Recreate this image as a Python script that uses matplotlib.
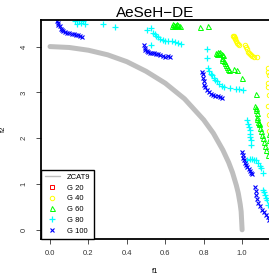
import numpy as np
import matplotlib
matplotlib.use("Agg")
import matplotlib.pyplot as plt

plt.rcParams['font.family'] = ['Liberation Sans', 'DejaVu Sans']

# ZCAT9 reference front
front_f1 = [0.0, 0.1, 0.2, 0.3, 0.4, 0.5, 0.6, 0.7, 0.8, 0.85, 0.9, 0.93, 0.95, 0.97, 0.98, 0.99, 0.995, 1.0]
front_f2 = [4.0, 3.98, 3.92, 3.82, 3.67, 3.46, 3.2, 2.86, 2.4, 2.11, 1.74, 1.47, 1.25, 0.97, 0.80, 0.56, 0.40, 0.0]

# generation 20: nothing inside the plotted window
g20_f1 = []
g20_f2 = []

g40_f1 = [0.953, 0.956, 0.958, 0.961, 0.964, 0.969, 0.974, 0.979, 0.984, 1.016, 1.021, 1.026, 1.031, 1.036, 1.042,
          1.047, 1.052, 1.0625, 1.075,
          1.135, 1.135, 1.14, 1.135, 1.135, 1.14, 1.135, 1.14, 1.14, 1.14]
g40_f2 = [4.24, 4.22, 4.20, 4.18, 4.17, 4.12, 4.08, 4.06, 4.04, 4.04, 3.99, 3.95, 3.89, 3.86, 3.84,
          3.82, 3.80, 3.78, 3.77,
          3.54, 3.45, 3.38, 3.21, 3.12, 2.95, 2.70, 2.50, 2.30, 2.15]

g60_f1 = [0.635, 0.640, 0.645, 0.650, 0.655, 0.660, 0.665, 0.677, 0.781, 0.823,
          0.865, 0.870, 0.875, 0.880, 0.885, 0.893, 0.901, 0.896, 0.896, 0.905, 0.911, 0.917, 0.922, 0.927, 0.932,
          0.960, 0.974, 1.000,
          1.073, 1.068, 1.070, 1.073, 1.076, 1.078, 1.080, 1.083, 1.086, 1.090, 1.094, 1.100, 1.104, 1.110, 1.115,
          1.120, 1.125, 1.135, 1.14, 1.14]
g60_f2 = [4.45, 4.50, 4.48, 4.45, 4.46, 4.49, 4.47, 4.45, 4.43, 4.45,
          3.86, 3.84, 3.88, 3.85, 3.89, 3.84, 3.82, 3.76, 3.71, 3.68, 3.65, 3.60, 3.56, 3.52, 3.49,
          3.50, 3.49, 3.32,
          2.97, 2.71, 2.66, 2.62, 2.55, 2.47, 2.41, 2.36, 2.33, 2.30, 2.23, 2.15, 2.07, 2.00, 1.92,
          1.83, 1.75, 1.64, 2.10, 1.95]

g80_f1 = [0.13, 0.14, 0.15, 0.16, 0.17, 0.18, 0.276, 0.339,
          0.505, 0.526, 0.536, 0.545, 0.552, 0.563, 0.573, 0.586, 0.599, 0.615, 0.635, 0.650, 0.667, 0.682, 0.526,
          0.818, 0.818, 0.823, 0.830, 0.838, 0.844, 0.852, 0.859, 0.870, 0.880, 0.893, 0.906, 0.9375, 0.969, 0.985, 1.005,
          1.026, 1.031, 1.036, 1.042, 1.042, 1.042, 1.047, 1.047,
          1.026, 1.040, 1.052, 1.063, 1.073, 1.083, 1.092, 1.099, 1.109,
          1.109, 1.115, 1.12, 1.125, 1.13, 1.135]
g80_f2 = [4.56, 4.50, 4.58, 4.52, 4.55, 4.50, 4.50, 4.43,
          4.37, 4.41, 4.30, 4.27, 4.24, 4.20, 4.17, 4.15, 4.13, 4.12, 4.13, 4.10, 4.08, 4.06, 4.04,
          3.95, 3.76, 3.54, 3.46, 3.40, 3.38, 3.32, 3.28, 3.24, 3.19, 3.15, 3.12, 3.10, 3.08, 3.07, 3.06,
          2.40, 2.32, 2.25, 2.18, 2.10, 2.03, 1.95, 1.86,
          1.53, 1.55, 1.55, 1.52, 1.53, 1.46, 1.40, 1.35, 1.24,
          0.87, 0.82, 0.76, 0.70, 0.66, 0.55]

g100_f1 = [0.036, 0.040, 0.042, 0.050, 0.057, 0.062, 0.068, 0.078, 0.089, 0.100, 0.115, 0.125, 0.135, 0.146, 0.156, 0.167,
           0.490, 0.492, 0.495, 0.503, 0.510, 0.520, 0.531, 0.542, 0.552, 0.563, 0.573, 0.586, 0.599, 0.612, 0.625,
           0.792, 0.794, 0.797, 0.799, 0.802, 0.808, 0.818, 0.828, 0.839, 0.849, 0.859, 0.872, 0.885, 0.896,
           1.000, 1.003, 1.005, 1.010, 1.016, 1.021, 1.026, 1.034, 1.042, 1.047, 1.052,
           1.068, 1.070, 1.073, 1.078, 1.083, 1.094, 1.104, 1.115, 1.125, 1.135, 1.14]
g100_f2 = [4.56, 4.52, 4.48, 4.44, 4.39, 4.36, 4.34, 4.32, 4.30, 4.29, 4.28, 4.27, 4.26, 4.25, 4.24, 4.21,
           4.04, 3.97, 3.93, 3.90, 3.89, 3.87, 3.86, 3.85, 3.84, 3.83, 3.82, 3.80, 3.78, 3.79, 3.78,
           3.45, 3.40, 3.32, 3.25, 3.17, 3.11, 3.06, 3.01, 2.97, 2.95, 2.93, 2.91, 2.90, 2.88,
           1.70, 1.64, 1.57, 1.52, 1.46, 1.42, 1.38, 1.33, 1.29, 1.25, 1.22,
           0.94, 0.85, 0.76, 0.67, 0.59, 0.51, 0.44, 0.38, 0.33, 0.27, 0.22]

xticks = [0.0, 0.2, 0.4, 0.6, 0.8, 1.0]
yticks = [0, 1, 2, 3, 4]

W, H = 269, 274
fig = plt.figure(figsize=(W / 100, H / 100), dpi=100)
ax = fig.add_axes([41 / W, (H - 238.5) / H, (W - 41) / W, (238.5 - 20) / H])

ax.plot(front_f1, front_f2, color='#BEBEBE', lw=3.6, solid_capstyle='round', solid_joinstyle='round', label='ZCAT9')
ms = 3.2
mew = 0.7
ax.plot(g20_f1, g20_f2, ls='none', marker='s', color='red', mfc='none', mec='red', ms=ms, mew=mew, label='G 20')
ax.plot(g40_f1, g40_f2, ls='none', marker='o', color='yellow', mfc='none', mec='yellow', ms=ms, mew=mew, label='G 40')
ax.plot(g60_f1, g60_f2, ls='none', marker='^', color='#00FF00', mfc='none', mec='#00FF00', ms=ms + 0.4, mew=mew, label='G 60')
ax.plot(g80_f1, g80_f2, ls='none', marker='+', color='cyan', ms=ms + 1.5, mew=mew + 0.2, label='G 80')
ax.plot(g100_f1, g100_f2, ls='none', marker='x', color='blue', ms=ms, mew=mew + 0.1, label='G 100')

ax.set_xlim(-0.047, 1.14)
ax.set_ylim(-0.19, 4.58)
ax.spines['right'].set_visible(False)
for s in ['left', 'bottom', 'top']:
    ax.spines[s].set_linewidth(1.3)

ax.set_xticks(xticks)
ax.set_xticklabels(['%.1f' % v for v in xticks])
ax.set_yticks(yticks)
ax.set_yticklabels([str(v) for v in yticks], rotation=90, va='center')
ax.tick_params(axis='both', labelsize=5.5, length=3.5, width=0.6, color='#333333', labelcolor='#333333')
ax.tick_params(axis='x', pad=5)
ax.tick_params(axis='y', pad=6)

ax.set_xlabel('f1', fontsize=5.5, labelpad=8)
ax.set_ylabel('f2', fontsize=5.5, labelpad=10)
ax.set_title('AeSeH\u2212DE', fontsize=11, pad=1.5)

leg = ax.legend(loc='lower left', bbox_to_anchor=(0, 0), borderaxespad=0, fontsize=5.5,
                fancybox=False, edgecolor='black', framealpha=1, handlelength=2.0,
                labelspacing=0.45, borderpad=0.5, handletextpad=0.9)
leg.get_frame().set_linewidth(1.0)
leg.get_lines()[0].set_linewidth(1.0)

fig.savefig('out.png', dpi=100)
